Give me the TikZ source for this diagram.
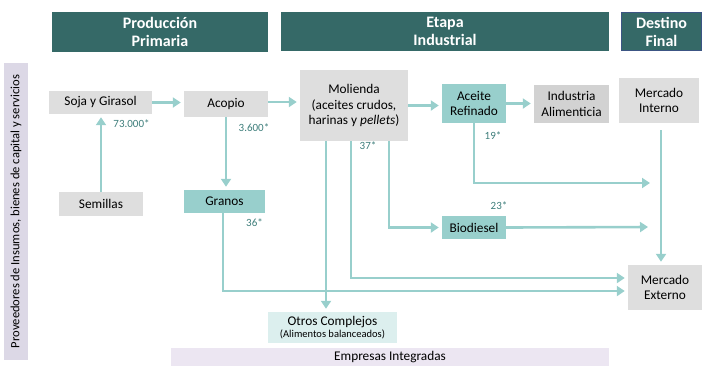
\documentclass[tikz,border=0pt]{standalone}
\usepackage{fontspec}
\setmainfont{Carlito}
\usetikzlibrary{arrows.meta}
\definecolor{header}{HTML}{356967}
\definecolor{flowc}{HTML}{98CFCC}
\definecolor{boxgray}{HTML}{DEDEDE}
\definecolor{boxdark}{HTML}{D2D2D2}
\definecolor{numc}{HTML}{3E7E7B}
\definecolor{lav}{HTML}{DCD8E6}
\definecolor{lavlight}{HTML}{ECE6F2}
\definecolor{tealight}{HTML}{DCEFEE}
\definecolor{dfborder}{HTML}{3C5584}
\begin{document}
\begin{tikzpicture}[x=1pt,y=-1pt,font=\fontsize{13.3}{15.5}\selectfont,
  head/.style={fill=header,text=white,font=\bfseries\fontsize{16}{18}\selectfont,align=center,inner sep=0pt},
  box/.style={fill=boxgray,align=center,inner sep=0pt},
  tbox/.style={fill=flowc,align=center,inner sep=0pt},
  num/.style={text=numc,font=\fontsize{11}{12}\selectfont,inner sep=0pt},
  flow/.style={draw=flowc,line width=2.6pt,-{Triangle[length=8pt,width=10pt]},shorten >=3pt}]
\useasboundingbox (0,0) rectangle (703,365);

\node[head,minimum width=216pt,minimum height=40pt] (pp) at (160,32) {Producción\\Primaria};
\node[head,minimum width=328pt,minimum height=39pt] (ei) at (445,31.5) {Etapa\\Industrial};
\node[head,draw=dfborder,line width=0.8pt,minimum width=80pt,minimum height=38pt] (df) at (661.5,31.5) {Destino\\Final};

\node[fill=lav,minimum width=297pt,minimum height=24pt,inner sep=0pt,rotate=90,font=\fontsize{12.6}{15}\selectfont] (prov) at (16,211.5) {Proveedores de Insumos, bienes de capital y servicios};

\node[box,minimum width=103pt,minimum height=23pt] (soja) at (100.5,102.5) {Soja y Girasol};
\node[box,minimum width=84pt,minimum height=26pt] (acopio) at (226,104) {Acopio};
\node[box,minimum width=108pt,minimum height=71pt] (mol) at (354,105.5) {Molienda\\(aceites crudos,\\harinas y \textit{pellets})};
\node[tbox,minimum width=64pt,minimum height=39pt] (aceite) at (474,103.5) {Aceite\\Refinado};
\node[box,fill=boxdark,minimum width=75pt,minimum height=38pt] (ind) at (571.5,104) {Industria\\Alimenticia};
\node[box,minimum width=80pt,minimum height=45pt] (mint) at (659,100.5) {Mercado\\Interno};
\node[box,minimum width=84pt,minimum height=24pt] (sem) at (101,204) {Semillas};
\node[tbox,minimum width=81pt,minimum height=23pt] (granos) at (224.5,201.5) {Granos};
\node[tbox,minimum width=64pt,minimum height=23pt] (bio) at (474,227.5) {Biodiesel};
\node[box,minimum width=74pt,minimum height=45pt] (mext) at (665,287.5) {Mercado\\Externo};
\node[box,fill=tealight,minimum width=129pt,minimum height=31pt] (oc) at (332.5,327.5) {Otros Complejos\\[-4pt]{\fontsize{10.5}{11}\selectfont(Alimentos balanceados)}};
\node[fill=lavlight,minimum width=438pt,minimum height=18pt,inner sep=0pt] (emp) at (390,357) {Empresas Integradas};

\node[num] (n73) at (131.5,124) {73.000*};
\node[num] (n36a) at (254,128) {3.600*};
\node[num] (n37) at (368,146) {37*};
\node[num] (n19) at (493,136) {19*};
\node[num] (n36) at (254.5,223) {36*};
\node[num] (n23) at (499,206) {23*};

\coordinate (outA) at (653,183);
\coordinate (outB) at (651,227);

\draw[flow] (soja.east) -- (soja.east -| acopio.west);
\draw[flow] ([yshift=2pt]acopio.east) -- ([yshift=2pt]acopio.east -| mol.west);
\draw[flow] (sem.north) -- (sem.north |- soja.south);
\draw[flow] (acopio.south) -- (acopio.south |- granos.north);
\draw[flow] (mol.east) -- (mol.east -| aceite.west);
\draw[flow] (aceite.east) -- (aceite.east -| ind.west);
\draw[flow] (aceite.south) |- (outA);
\draw[flow] ([xshift=35pt]mol.south) |- (bio.west);
\draw[flow] (bio.east) -- (outB);
\draw[flow] ([xshift=-3pt]mol.south) |- ([yshift=9.5pt]mext.west);
\draw[flow] ([xshift=-1.5pt]granos.south) |- ([yshift=-3.5pt]mext.west);
\draw[flow] ([xshift=-28pt]mol.south) -- ([xshift=-28pt]mol.south |- oc.north);
\draw[flow,shorten <=7pt] ([xshift=2pt]mint.south) -- ([xshift=2pt]mint.south |- mext.north);
\end{tikzpicture}
\end{document}
